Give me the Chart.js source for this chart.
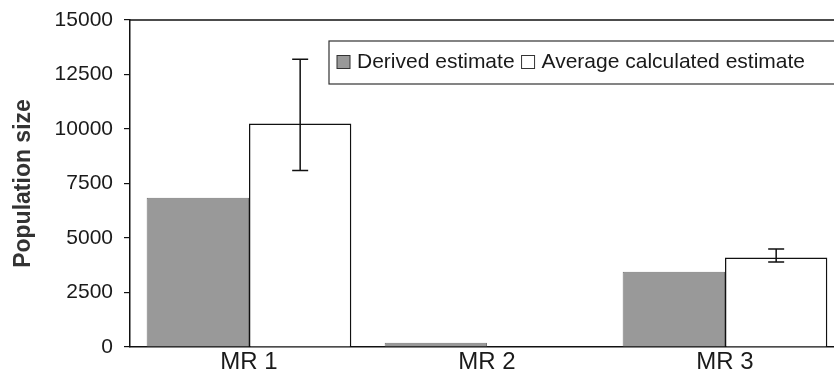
<!DOCTYPE html>
<html>
<head>
<meta charset="utf-8">
<script src="https://cdn.jsdelivr.net/npm/chart.js@4"></script>
<style>
  html, body { margin: 0; padding: 0; background: #fff; overflow: hidden; }
  #wrap { width: 844px; height: 376px; position: relative; }
</style>
</head>
<body>
<div id="wrap"><canvas id="canvas"></canvas></div>
<script>
// population estimates per mark-recapture session
var sessions = ['MR 1', 'MR 2', 'MR 3'];
var derived = [6850, 200, 3450];
var averageCalc = [10250, null, 4100];
var averageLow = [8100, null, 3900];
var averageHigh = [13200, null, 4500];
var yTicks = [0, 2500, 5000, 7500, 10000, 12500, 15000];

var FONT = '"Liberation Sans", Arial, sans-serif';

// whiskers for the calculated estimate
var errorBars = {
    id: 'errorBars',
    afterDatasetsDraw: function (chart) {
        var ctx = chart.ctx;
        var y = chart.scales.y;
        var meta = chart.getDatasetMeta(1);
        ctx.save();
        ctx.strokeStyle = '#111';
        ctx.lineWidth = 1.5;
        meta.data.forEach(function (bar, i) {
            if (averageLow[i] == null) return;
            var x = bar.x;
            var top = y.getPixelForValue(averageHigh[i]);
            var bot = y.getPixelForValue(averageLow[i]);
            ctx.beginPath();
            ctx.moveTo(x, top); ctx.lineTo(x, bot);
            ctx.moveTo(x - 8, top); ctx.lineTo(x + 8, top);
            ctx.moveTo(x - 8, bot); ctx.lineTo(x + 8, bot);
            ctx.stroke();
        });
        ctx.restore();
    }
};

// frame line along the top and the boxed legend inside the plot
var frameLegend = {
    id: 'frameLegend',
    afterDraw: function (chart) {
        var ctx = chart.ctx;
        var area = chart.chartArea;
        ctx.save();
        ctx.strokeStyle = '#111';
        ctx.lineWidth = 1.5;
        ctx.beginPath();
        ctx.moveTo(area.left, area.top);
        ctx.lineTo(area.right, area.top);
        ctx.stroke();

        var bx = 329, by = 41, bw = 506, bh = 43;
        ctx.fillStyle = '#fff';
        ctx.fillRect(bx, by, bw, bh);
        ctx.lineWidth = 1.2;
        ctx.strokeStyle = '#333';
        ctx.strokeRect(bx, by, bw, bh);

        ctx.font = '21px ' + FONT;
        ctx.textBaseline = 'middle';
        var x = bx + 8;
        var cy = by + bh / 2;
        chart.data.datasets.forEach(function (ds) {
            ctx.fillStyle = ds.backgroundColor;
            ctx.fillRect(x, cy - 7, 13, 13);
            ctx.strokeStyle = '#333';
            ctx.lineWidth = 1;
            ctx.strokeRect(x, cy - 7, 13, 13);
            ctx.fillStyle = '#1a1a1a';
            ctx.fillText(ds.label, x + 20, cy);
            x += 20 + ctx.measureText(ds.label).width + 7;
        });
        ctx.restore();
    }
};

var ctx = document.getElementById('canvas').getContext('2d');
var chart = new Chart(ctx, {
    type: 'bar',
    data: {
        labels: sessions,
        datasets: [
            {
                label: 'Derived estimate',
                data: derived,
                backgroundColor: '#999999',
                borderColor: '#777777',
                borderWidth: 1
            },
            {
                label: 'Average calculated estimate',
                data: averageCalc,
                backgroundColor: '#ffffff',
                borderColor: '#111',
                borderWidth: 1.5
            }
        ]
    },
    options: {
        responsive: true,
        maintainAspectRatio: false,
        animation: false,
        layout: { padding: { top: 20, right: 0, left: 0, bottom: 0 } },
        datasets: {
            bar: { categoryPercentage: 0.86, barPercentage: 1.0 }
        },
        plugins: {
            legend: { display: false },
            tooltip: { enabled: false }
        },
        scales: {
            x: {
                grid: { display: false, drawTicks: false },
                border: { color: '#111', width: 1.5 },
                ticks: { color: '#1a1a1a', font: { family: FONT, size: 24 }, padding: 1 },
                afterFit: function (scale) {
                    scale.height = 29;
                    scale.paddingLeft = 0;
                    scale.paddingRight = 0;
                }
            },
            y: {
                min: 0,
                max: 15000,
                afterBuildTicks: function (scale) {
                    scale.ticks = yTicks.map(function (v) { return { value: v }; });
                },
                grid: { drawOnChartArea: false, tickLength: 6, color: '#111', lineWidth: 1.2 },
                border: { color: '#111', width: 1.5 },
                ticks: {
                    color: '#1a1a1a',
                    font: { family: FONT, size: 21 },
                    padding: 11,
                    callback: function (v) { return String(v); }
                },
                title: {
                    display: true,
                    text: 'Population size',
                    color: '#333',
                    font: { family: FONT, size: 23, weight: 'bold' },
                    padding: { top: 10, bottom: 0 }
                },
                afterFit: function (scale) {
                    scale.width = 130;
                    scale.paddingTop = 0;
                    scale.paddingBottom = 0;
                }
            }
        }
    },
    plugins: [errorBars, frameLegend]
});
</script>
</body>
</html>
